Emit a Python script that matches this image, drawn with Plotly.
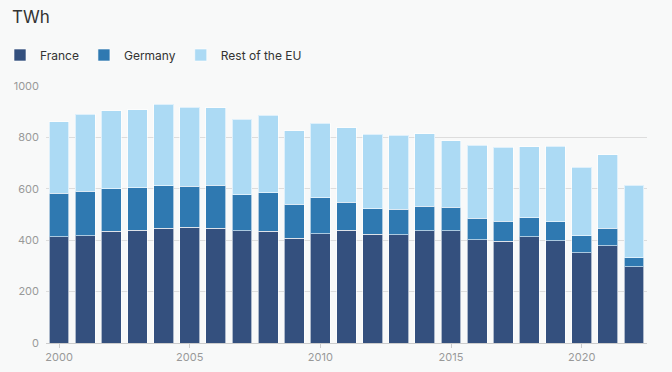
import plotly.graph_objects as go

years = list(range(2000, 2023))
france = [413, 418, 434, 438, 446, 450, 447, 436, 435, 407, 426, 439,
          423, 422, 436, 436, 401, 396, 413, 397, 352, 379, 296]
germany = [169, 172, 166, 166, 166, 160, 167, 141, 149, 133, 140, 108,
           99, 98, 97, 93, 85, 77, 74, 74, 65, 68, 35]
total = [860, 890, 903, 908, 929, 918, 916, 871, 886, 826, 855, 838,
         813, 808, 814, 787, 769, 761, 764, 766, 684, 732, 613]
germany_top = [f + g for f, g in zip(france, germany)]
rest = [t - gt for t, gt in zip(total, germany_top)]

series = [
    ("France", france, "#34507e"),
    ("Germany", germany, "#2f79b1"),
    ("Rest of the EU", rest, "#acdaf4"),
]

fig = go.Figure()
for name, vals, col in series:
    fig.add_trace(go.Bar(
        x=years, y=vals, name=name,
        marker=dict(color=col, line=dict(color="rgba(255,255,255,0.6)", width=1)),
    ))

fig.update_layout(
    barmode="stack",
    bargap=0.24,
    width=672, height=372,
    paper_bgcolor="#f8f9f9",
    plot_bgcolor="#f8f9f9",
    font=dict(family="Inter, Lato, sans-serif", color="#333333"),
    margin=dict(l=46, r=25, t=86, b=29),
    title=dict(text="TWh", x=12/672, xref="container", xanchor="left",
               y=1 - 17/372, yref="container", yanchor="middle",
               font=dict(size=17, color="#333333")),
    legend=dict(orientation="h", xref="container", x=-3/672, xanchor="left",
                yref="container", y=1 - 55/372, yanchor="middle",
                font=dict(size=12, color="#333333"), traceorder="normal",
                itemclick=False, bgcolor="rgba(0,0,0,0)"),
    showlegend=True,
)
fig.update_xaxes(
    range=[1999.5, 2022.5], tickmode="linear", tick0=2000, dtick=5,
    showgrid=False, showline=True, linecolor="#cccccc", linewidth=1,
    ticks="outside", ticklen=4, tickcolor="#cccccc", automargin=False,
    tickfont=dict(size=11, color="#999999"),
)
fig.update_yaxes(
    range=[0, 1000], tickmode="linear", tick0=0, dtick=200,
    showgrid=True, gridcolor="#dddddd", gridwidth=1, zeroline=False,
    tickfont=dict(size=11, color="#999999"), ticks="", ticklabelstandoff=6,
    automargin=False,
)

fig.write_html("out.html", config={"displayModeBar": False},
               post_script="document.body.style.margin='0';")
